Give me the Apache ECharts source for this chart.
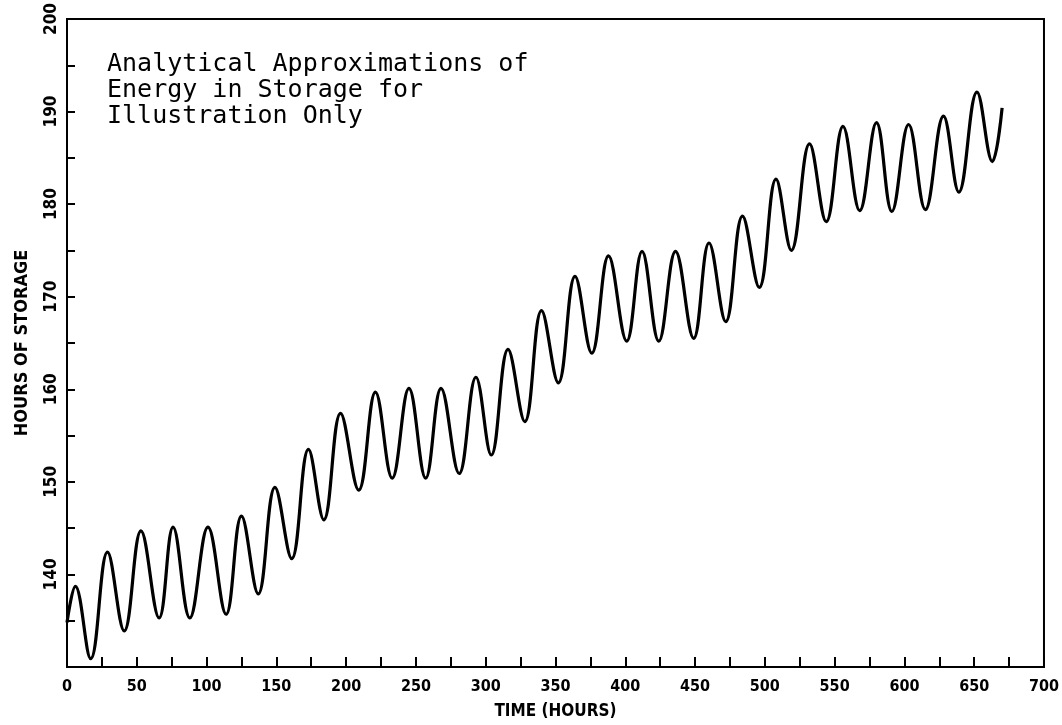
<!DOCTYPE html>
<html>
<head>
<meta charset="utf-8">
<script src="https://cdn.jsdelivr.net/npm/echarts@6/dist/echarts.min.js"></script>
<style>
  html, body { margin: 0; padding: 0; background: #fff; }
  #chart { width: 1062px; height: 725px; }
</style>
</head>
<body>
<div id="chart"></div>
<script>
// Time (hours) at each read-off extremum of the curve
const hours = [0, 6, 17, 29, 41, 53, 66, 76, 88, 101,
  114, 125, 137, 149, 161, 173, 184, 196, 209, 221,
  233, 245, 257, 268, 281, 293, 304, 316, 328, 340,
  352, 364, 376, 388, 401, 412, 424, 436, 449, 460,
  472, 484, 496, 508, 519, 532, 544, 556, 568, 580,
  591, 603, 615, 628, 639, 652, 663, 670];
// Hours of storage at those times
const storage = [134.8, 138.7, 130.9, 142.4, 133.9, 144.7, 135.3, 145.1, 135.3, 145.1,
  135.7, 146.3, 137.9, 149.4, 141.7, 153.5, 145.9, 157.4, 149.1, 159.7,
  150.4, 160.1, 150.4, 160.1, 150.9, 161.3, 152.9, 164.3, 156.5, 168.5,
  160.7, 172.2, 163.9, 174.4, 165.2, 174.9, 165.2, 174.9, 165.5, 175.8,
  167.3, 178.7, 171.0, 182.7, 175.0, 186.5, 178.1, 188.4, 179.3, 188.8,
  179.2, 188.6, 179.4, 189.5, 181.3, 192.1, 184.6, 190.4];

const xAxisName = 'TIME (HOURS)';
const yAxisName = 'HOURS OF STORAGE';
const noteLines = ['Analytical Approximations of', 'Energy in Storage for', 'Illustration Only'];

const axisFont = "'DejaVu Sans Condensed', 'Liberation Sans Narrow', 'DejaVu Sans', sans-serif";

const chart = echarts.init(document.getElementById('chart'), null, { renderer: 'canvas' });

chart.setOption({
  animation: false,
  backgroundColor: '#ffffff',
  grid: {
    left: 67, right: 16, top: 18, bottom: 54,
    show: true, borderColor: '#000', borderWidth: 2, backgroundColor: 'transparent'
  },
  xAxis: {
    type: 'value',
    min: 0, max: 700, interval: 25,
    name: xAxisName,
    nameLocation: 'middle',
    nameGap: 36,
    nameTextStyle: { color: '#000', fontFamily: axisFont, fontSize: 17, fontWeight: 'bold' },
    axisLine: { show: true, lineStyle: { color: '#000', width: 2 } },
    axisTick: { show: true, inside: true, length: 10, lineStyle: { color: '#000', width: 2 } },
    axisLabel: {
      color: '#000', fontFamily: axisFont, fontSize: 16, fontWeight: 'bold', margin: 12,
      formatter: v => (v % 50 === 0 ? String(v) : '')
    },
    splitLine: { show: false }
  },
  yAxis: {
    type: 'value',
    min: 130, max: 200, interval: 5,
    name: yAxisName,
    nameLocation: 'middle',
    nameGap: 36,
    nameRotate: 90,
    nameTextStyle: { color: '#000', fontFamily: axisFont, fontSize: 18, fontWeight: 'bold' },
    axisLine: { show: true, lineStyle: { color: '#000', width: 2 } },
    axisTick: { show: true, inside: true, length: 8, lineStyle: { color: '#000', width: 2 } },
    axisLabel: {
      color: '#000', fontFamily: axisFont, fontSize: 17, fontWeight: 'bold', margin: 7, rotate: 90,
      formatter: v => (v % 10 === 0 && v !== 130 ? String(v) : '')
    },
    splitLine: { show: false }
  },
  series: [{
    type: 'line',
    data: hours.map((h, i) => [h, storage[i]]),
    smooth: 0.4,
    showSymbol: false,
    lineStyle: { color: '#000', width: 3.2 },
    itemStyle: { color: '#000' }
  }],
  graphic: [{
    type: 'text',
    left: 107,
    top: 51,
    style: {
      text: noteLines.join('\n'),
      fill: '#000',
      font: "25px 'DejaVu Sans Mono', 'Liberation Mono', monospace",
      lineHeight: 26
    }
  }]
});
</script>
</body>
</html>
